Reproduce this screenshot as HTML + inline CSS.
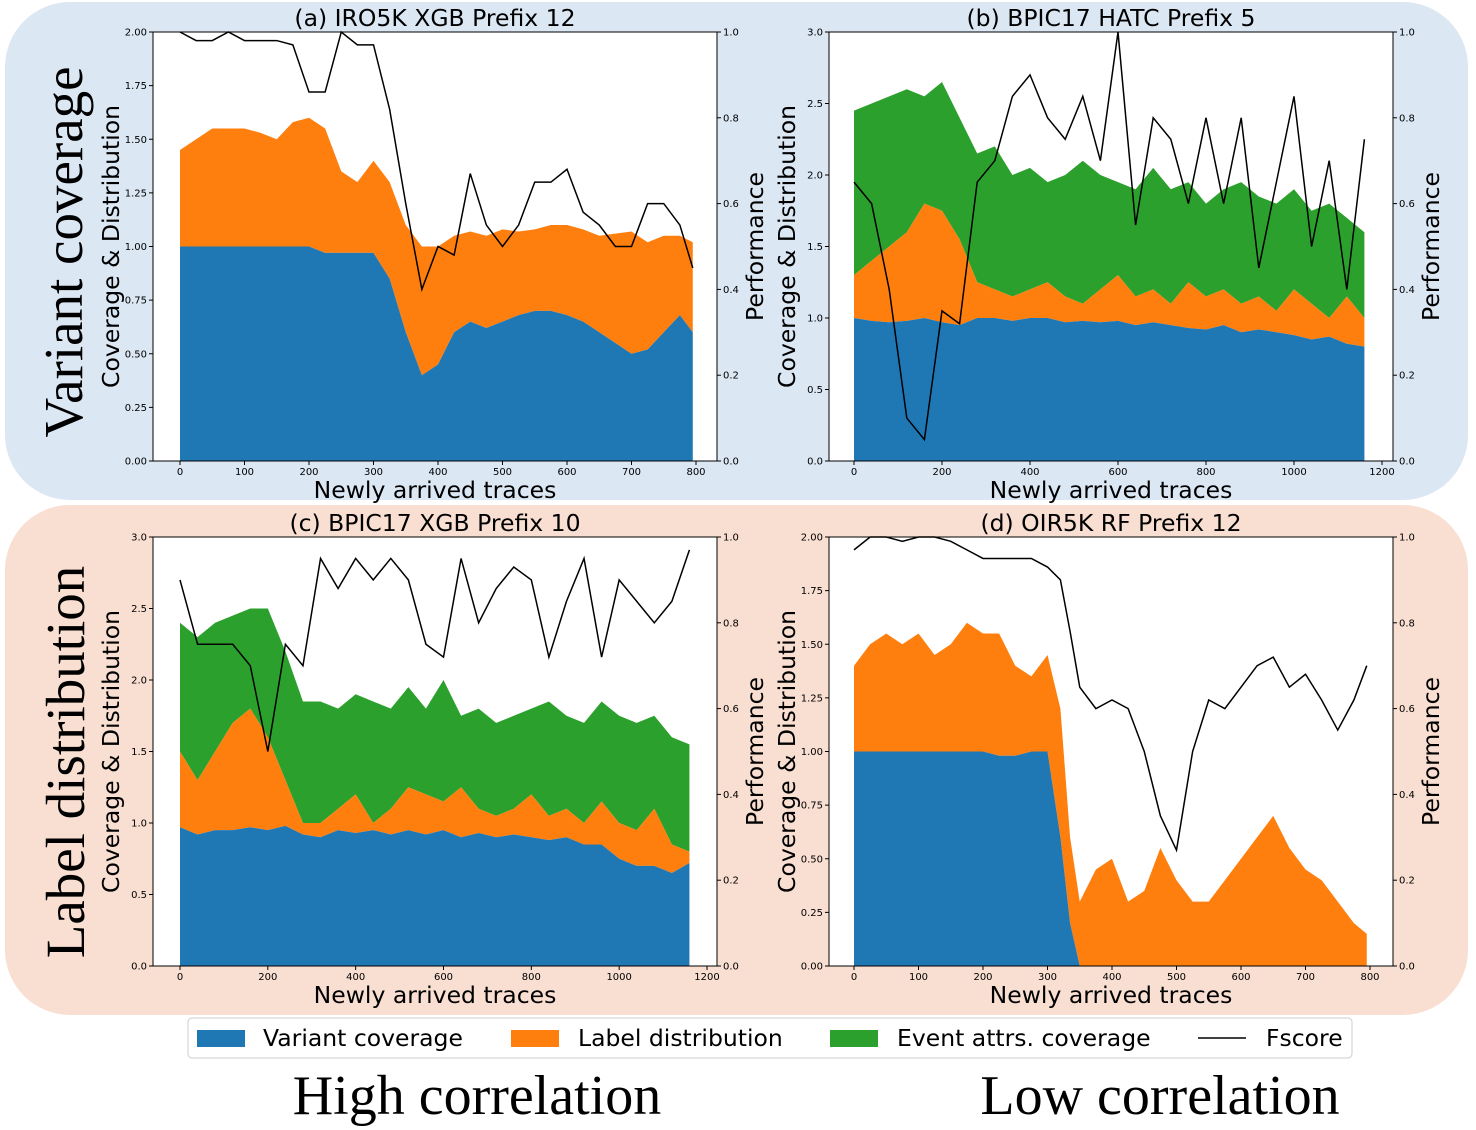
<!DOCTYPE html>
<html><head><meta charset="utf-8"><style>
body{margin:0;background:#fff;width:1476px;height:1130px;overflow:hidden}
svg{display:block}
text{font-family:"DejaVu Sans","Liberation Sans",sans-serif}
.serif{font-family:"Liberation Serif",serif}
</style></head><body>
<svg id="fig" width="1476" height="1130" xmlns="http://www.w3.org/2000/svg">
<rect x="5" y="2" width="1463" height="498" rx="65" fill="#dce7f4"/>
<rect x="5" y="505" width="1463" height="510" rx="65" fill="#f9dfd2"/>
<text class="serif" transform="translate(82,252) rotate(-90)" text-anchor="middle" font-size="55">Variant coverage</text>
<text class="serif" transform="translate(84,762) rotate(-90)" text-anchor="middle" font-size="55">Label distribution</text>
<g id="charts"></g>
<g>
<rect x="188" y="1018" width="1164" height="40" rx="4" fill="#fff" stroke="#ccc"/>
<rect x="197" y="1030" width="48" height="17" fill="#1f77b4"/>
<text x="263" y="1046" font-size="23.5">Variant coverage</text>
<rect x="511" y="1030" width="48" height="17" fill="#ff7f0e"/>
<text x="578" y="1046" font-size="23.5">Label distribution</text>
<rect x="830" y="1030" width="48" height="17" fill="#2ca02c"/>
<text x="897" y="1046" font-size="23.5">Event attrs. coverage</text>
<line x1="1198" y1="1038" x2="1246" y2="1038" stroke="#000" stroke-width="1.5"/>
<text x="1266" y="1046" font-size="23.5">Fscore</text>
</g>
<text class="serif" x="477" y="1114" text-anchor="middle" font-size="56">High correlation</text>
<text class="serif" x="1160" y="1114" text-anchor="middle" font-size="56">Low correlation</text>
</svg>
<script>
// ---- chart (a) ----
const aX=[0,25,50,75,100,125,150,175,200,225,250,275,300,325,350,375,400,425,450,475,500,525,550,575,600,625,650,675,700,725,750,775,795];
const aVariant=[1,1,1,1,1,1,1,1,1,0.97,0.97,0.97,0.97,0.85,0.6,0.4,0.45,0.6,0.65,0.62,0.65,0.68,0.7,0.7,0.68,0.65,0.6,0.55,0.5,0.52,0.6,0.68,0.6];
const aTotal=[1.45,1.5,1.55,1.55,1.55,1.53,1.5,1.58,1.6,1.55,1.35,1.3,1.4,1.3,1.1,1.0,1.0,1.05,1.07,1.05,1.08,1.07,1.08,1.1,1.1,1.08,1.05,1.06,1.07,1.02,1.05,1.05,1.02];
const aF=[1.0,0.98,0.98,1.0,0.98,0.98,0.98,0.97,0.86,0.86,1.0,0.97,0.97,0.82,0.6,0.4,0.5,0.48,0.67,0.55,0.5,0.55,0.65,0.65,0.68,0.58,0.55,0.5,0.5,0.6,0.6,0.55,0.45];
// ---- chart (b) ----
const bX=[0,40,80,120,160,200,240,280,320,360,400,440,480,520,560,600,640,680,720,760,800,840,880,920,960,1000,1040,1080,1120,1160];
const bVariant=[1.0,0.98,0.97,0.98,1.0,0.97,0.95,1.0,1.0,0.98,1.0,1.0,0.97,0.98,0.97,0.98,0.95,0.97,0.95,0.93,0.92,0.95,0.9,0.92,0.9,0.88,0.85,0.87,0.82,0.8];
const bTotal=[1.3,1.4,1.5,1.6,1.8,1.75,1.55,1.25,1.2,1.15,1.2,1.25,1.15,1.1,1.2,1.3,1.15,1.2,1.1,1.25,1.15,1.2,1.1,1.15,1.05,1.2,1.1,1.0,1.15,1.0];
const bEvent=[2.45,2.5,2.55,2.6,2.55,2.65,2.4,2.15,2.2,2.0,2.05,1.95,2.0,2.1,2.0,1.95,1.9,2.05,1.9,1.95,1.8,1.9,1.95,1.85,1.8,1.9,1.75,1.8,1.7,1.6];
const bF=[0.65,0.6,0.4,0.1,0.05,0.35,0.32,0.65,0.7,0.85,0.9,0.8,0.75,0.85,0.7,1.0,0.55,0.8,0.75,0.6,0.8,0.6,0.8,0.45,0.65,0.85,0.5,0.7,0.4,0.75];
// ---- chart (c) ----
const cX=[0,40,80,120,160,200,240,280,320,360,400,440,480,520,560,600,640,680,720,760,800,840,880,920,960,1000,1040,1080,1120,1160];
const cVariant=[0.97,0.92,0.95,0.95,0.97,0.95,0.98,0.92,0.9,0.95,0.93,0.95,0.92,0.95,0.92,0.95,0.9,0.93,0.9,0.92,0.9,0.88,0.9,0.85,0.85,0.75,0.7,0.7,0.65,0.72];
const cTotal=[1.5,1.3,1.5,1.7,1.8,1.6,1.3,1.0,1.0,1.1,1.2,1.0,1.1,1.25,1.2,1.15,1.25,1.1,1.05,1.1,1.2,1.05,1.1,1.0,1.15,1.0,0.95,1.1,0.85,0.8];
const cEvent=[2.4,2.3,2.4,2.45,2.5,2.5,2.2,1.85,1.85,1.8,1.9,1.85,1.8,1.95,1.8,2.0,1.75,1.8,1.7,1.75,1.8,1.85,1.75,1.7,1.85,1.75,1.7,1.75,1.6,1.55];
const cF=[0.9,0.75,0.75,0.75,0.7,0.5,0.75,0.7,0.95,0.88,0.95,0.9,0.95,0.9,0.75,0.72,0.95,0.8,0.88,0.93,0.9,0.72,0.85,0.95,0.72,0.9,0.85,0.8,0.85,0.97];
// ---- chart (d) ----
const dX=[0,25,50,75,100,125,150,175,200,225,250,275,300,320,335,350,375,400,425,450,475,500,525,550,575,600,625,650,675,700,725,750,775,795];
const dVariant=[1,1,1,1,1,1,1,1,1,0.98,0.98,1,1,0.6,0.2,0,0,0,0,0,0,0,0,0,0,0,0,0,0,0,0,0,0,0];
const dTotal=[1.4,1.5,1.55,1.5,1.55,1.45,1.5,1.6,1.55,1.55,1.4,1.35,1.45,1.2,0.6,0.3,0.45,0.5,0.3,0.35,0.55,0.4,0.3,0.3,0.4,0.5,0.6,0.7,0.55,0.45,0.4,0.3,0.2,0.15];
const dF=[0.97,1.0,1.0,0.99,1.0,1.0,0.99,0.97,0.95,0.95,0.95,0.95,0.93,0.9,0.78,0.65,0.6,0.62,0.6,0.5,0.35,0.27,0.5,0.62,0.6,0.65,0.7,0.72,0.65,0.68,0.62,0.55,0.62,0.7];

const NS='http://www.w3.org/2000/svg';
const root=document.getElementById('charts');
function mk(tag,attrs,parent){const e=document.createElementNS(NS,tag);for(const k in attrs)e.setAttribute(k,attrs[k]);(parent||root).appendChild(e);return e;}
function chart(cfg){
  const g=mk('g',{});
  
  
  const L=cfg.left,T=cfg.top,R=cfg.right,B=cfg.bottom;
  const bg=mk('rect',{x:L,y:T,width:R-L,height:B-T,fill:'#fff'},g);
  
  
  const sx=v=>cfg.x0px+(v)/cfg.xmax*(cfg.xendpx-cfg.x0px);
  const sy=v=>B-v/cfg.ymax*(B-T);
  const sf=v=>B-v*(B-T);
  const X=cfg.xs;
  function area(lo,hi,color,name){
    let d='M'+sx(X[0])+','+sy(lo[0]);
    for(let i=0;i<X.length;i++){d+='L'+sx(X[i])+','+sy(hi[i]);}
    for(let i=X.length-1;i>=0;i--){d+='L'+sx(X[i])+','+sy(lo[i]);}
    const p=mk('path',{d:d+'Z',fill:color},g);
    
    
  }
  const zero=X.map(()=>0);
  if(cfg.event) area(cfg.total,cfg.event,'#2ca02c','event-coverage-area');
  area(cfg.variant,cfg.total,'#ff7f0e','label-distribution-area');
  area(zero,cfg.variant,'#1f77b4','variant-coverage-area');
  let d='';
  for(let i=0;i<X.length;i++){d+=(i?'L':'M')+sx(X[i])+','+sf(Math.min(1,cfg.f[i]));}
  const ln=mk('path',{d:d,fill:'none',stroke:'#000','stroke-width':1.5},g);
  
  
  const fr=mk('rect',{x:L,y:T,width:R-L,height:B-T,fill:'none',stroke:'#000','stroke-width':1},g);
  
  
  cfg.yticks.forEach(v=>{
    mk('line',{x1:L-4,x2:L,y1:sy(v),y2:sy(v),stroke:'#000'},g);
    const t=mk('text',{x:L-6,y:sy(v)+3.5,'text-anchor':'end','font-size':10},g);t.textContent=v.toFixed(cfg.ydec);
    
    
  });
  [0,0.2,0.4,0.6,0.8,1.0].forEach(v=>{
    mk('line',{x1:R,x2:R+4,y1:sf(v),y2:sf(v),stroke:'#000'},g);
    const t=mk('text',{x:R+6,y:sf(v)+3.5,'font-size':10},g);t.textContent=v.toFixed(1);
    
    
  });
  cfg.xticks.forEach(v=>{
    mk('line',{x1:sx(v),x2:sx(v),y1:B,y2:B+4,stroke:'#000'},g);
    const t=mk('text',{x:sx(v),y:B+14,'text-anchor':'middle','font-size':10},g);t.textContent=v;
    
    
  });
  const ti=mk('text',{x:(L+R)/2,y:T-6,'text-anchor':'middle','font-size':23.5},g);ti.textContent=cfg.title;
  
  
  const xl=mk('text',{x:(L+R)/2,y:B+37,'text-anchor':'middle','font-size':23.5},g);xl.textContent='Newly arrived traces';
  
  
  const yl=mk('text',{transform:`translate(${L-34},${(T+B)/2}) rotate(-90)`,'text-anchor':'middle','font-size':23.5},g);yl.textContent='Coverage & Distribution';
  
  
  const pl=mk('text',{transform:`translate(${R+46},${(T+B)/2}) rotate(-90)`,'text-anchor':'middle','font-size':23.5},g);pl.textContent='Performance';
  
  
}
const t2=[0,0.25,0.5,0.75,1,1.25,1.5,1.75,2];
const t3=[0,0.5,1,1.5,2,2.5,3];
chart({id:'a',title:'(a) IRO5K XGB Prefix 12',left:153,right:717,top:32,bottom:461,x0px:180,xendpx:696,xmax:800,ymax:2,yticks:t2,ydec:2,xticks:[0,100,200,300,400,500,600,700,800],xs:aX,variant:aVariant,total:aTotal,f:aF});
chart({id:'b',title:'(b) BPIC17 HATC Prefix 5',left:829,right:1393,top:32,bottom:461,x0px:854,xendpx:1382,xmax:1200,ymax:3,yticks:t3,ydec:1,xticks:[0,200,400,600,800,1000,1200],xs:bX,variant:bVariant,total:bTotal,event:bEvent,f:bF});
chart({id:'c',title:'(c) BPIC17 XGB Prefix 10',left:153,right:717,top:537,bottom:966,x0px:180,xendpx:707,xmax:1200,ymax:3,yticks:t3,ydec:1,xticks:[0,200,400,600,800,1000,1200],xs:cX,variant:cVariant,total:cTotal,event:cEvent,f:cF});
chart({id:'d',title:'(d) OIR5K RF Prefix 12',left:829,right:1393,top:537,bottom:966,x0px:854,xendpx:1370,xmax:800,ymax:2,yticks:t2,ydec:2,xticks:[0,100,200,300,400,500,600,700,800],xs:dX,variant:dVariant,total:dTotal,f:dF});
</script>
</body></html>
